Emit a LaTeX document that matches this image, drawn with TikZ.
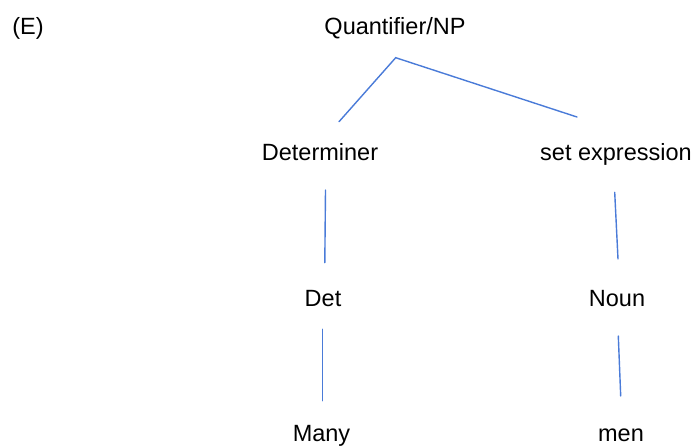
\documentclass[tikz,border=0pt]{standalone}
\usepackage{fontspec}
\setmainfont{Liberation Sans}
\definecolor{edgeblue}{RGB}{74,123,216}
\begin{document}
\begin{tikzpicture}[x=1pt,y=-1pt,
  lbl/.style={anchor=base,inner sep=0pt,font=\fontsize{23.5}{26}\selectfont},
  branch/.style={draw=edgeblue,line width=1.4pt,line cap=round}]
\useasboundingbox (0,0) rectangle (696,445);

% labels of the tree
\node[lbl] (tag)  at (28,34)    {(E)};
\node[lbl] (root) at (395,34)   {Quantifier/NP};
\node[lbl] (detr) at (320,160)  {Determiner};
\node[lbl] (setx) at (616,160)  {set expression};
\node[lbl] (det)  at (323,306)  {Det};
\node[lbl] (noun) at (617,306)  {Noun};
\node[lbl] (many) at (321.5,441.5) {Many};
\node[lbl] (men)  at (621,441.5)  {men};

% free ends of the branches
\coordinate (apex)  at (395.7,57.7);
\coordinate (aL)    at (339,121.7);
\coordinate (aR)    at (577,117);
\coordinate (d1t)   at (325.5,190);
\coordinate (d1b)   at (324.8,262.7);
\coordinate (n1t)   at (614.7,192.3);
\coordinate (n1b)   at (618,259);
\coordinate (d2t)   at (322.3,329.3);
\coordinate (d2b)   at (322.3,400.7);
\coordinate (n2t)   at (618.3,336);
\coordinate (n2b)   at (620.7,396);

\draw[branch] (aL) -- (apex) -- (aR);
\draw[branch] (d1t) -- (d1b);
\draw[branch] (n1t) -- (n1b);
\draw[branch] (d2t) -- (d2b);
\draw[branch] (n2t) -- (n2b);
\end{tikzpicture}
\end{document}
